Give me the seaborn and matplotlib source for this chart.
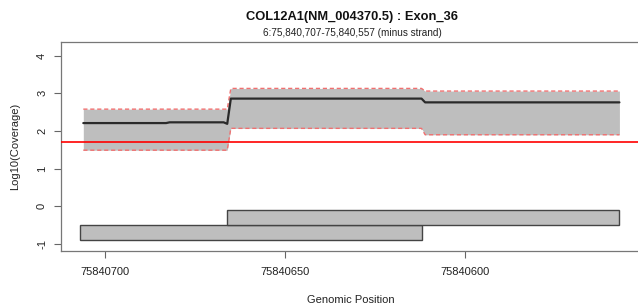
import seaborn as sns
import numpy as np
import matplotlib.pyplot as plt
import pandas as pd

# coverage summary along the exon (genomic positions, minus strand)
cov_pos = [75840706, 75840683, 75840682, 75840667, 75840666, 75840665, 75840612, 75840611, 75840557]
cov_mean = [2.21, 2.21, 2.23, 2.23, 2.19, 2.86, 2.86, 2.76, 2.76]

band_pos = [75840706, 75840666, 75840665, 75840612, 75840611, 75840557]
band_upper = [2.58, 2.58, 3.13, 3.13, 3.06, 3.06]
band_lower = [1.49, 1.49, 2.07, 2.07, 1.90, 1.90]

threshold = 1.70

# exon/amplicon boxes: start, end, bottom, top
box_start = [75840707, 75840666]
box_end = [75840612, 75840557]
box_bottom = [-0.9, -0.5]
box_top = [-0.5, -0.1]

x_ticks = [75840700, 75840650, 75840600]
y_ticks = [-1, 0, 1, 2, 3, 4]

df_mean = pd.DataFrame({'Position': cov_pos, 'Coverage': cov_mean})
df_band = pd.DataFrame({'Position': band_pos, 'Upper': band_upper, 'Lower': band_lower})

sns.set_style("ticks")
plt.rcParams['font.family'] = ['Liberation Sans', 'DejaVu Sans']

fig = plt.figure(figsize=(6.38, 3.08), dpi=100)
ax = fig.add_axes([61 / 638, 56.7 / 308, 580 / 638, 209 / 308])

ax.fill_between(df_band['Position'], df_band['Lower'], df_band['Upper'], color='#bebebe', lw=0, zorder=1)
sns.lineplot(data=df_band, x='Position', y='Upper', ax=ax, color='#f07070', lw=1.0, linestyle=(0, (3, 2)), sort=False, zorder=2)
sns.lineplot(data=df_band, x='Position', y='Lower', ax=ax, color='#f07070', lw=1.0, linestyle=(0, (3, 2)), sort=False, zorder=2)
sns.lineplot(data=df_mean, x='Position', y='Coverage', ax=ax, color='#2a2a2a', lw=1.6, sort=False, zorder=3)
ax.axhline(threshold, color='#ff0000', lw=1.2, zorder=4)

for s, e, b, t in zip(box_start, box_end, box_bottom, box_top):
    ax.barh(y=b, width=e - s, left=s, height=t - b, align='edge',
            color='#bebebe', edgecolor='#444444', linewidth=1.0, zorder=2)

ax.set_xlim(75840712.2, 75840551)
ax.set_ylim(-1.195, 4.355)
ax.set_xticks(x_ticks)
ax.set_xticklabels([str(v) for v in x_ticks], fontsize=8, color='#222222')
ax.set_yticks(y_ticks)
ax.set_yticklabels([str(v) for v in y_ticks], fontsize=8, color='#222222', rotation=90, va='center')
ax.tick_params(axis='both', length=5, width=0.8, color='#666666')
ax.tick_params(axis='x', pad=6)
ax.tick_params(axis='y', pad=5)
for sp in ax.spines.values():
    sp.set_visible(True)
    sp.set_color('#777777')
    sp.set_linewidth(0.9)

ax.set_xlabel('Genomic Position', fontsize=8, color='#222222', labelpad=13)
ax.set_ylabel('Log10(Coverage)', fontsize=8, color='#222222', labelpad=12)

fig.text(352 / 638, 1 - 17 / 308, 'COL12A1(NM_004370.5) : Exon_36', ha='center', va='center',
         fontsize=9.3, fontweight='bold', color='#111111')
fig.text(352 / 638, 1 - 33.5 / 308, '6:75,840,707-75,840,557 (minus strand)', ha='center', va='center',
         fontsize=7.2, color='#222222')

fig.savefig('out.png', dpi=100)
